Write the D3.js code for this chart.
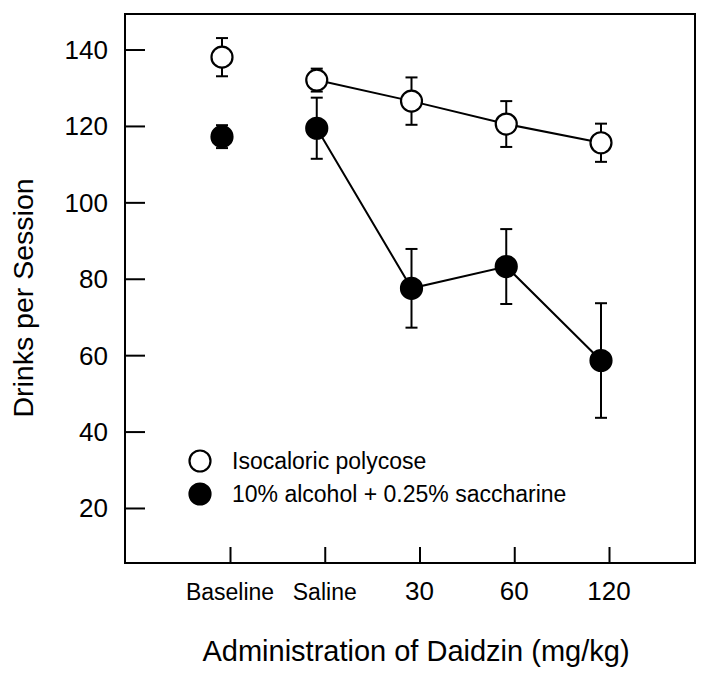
<!DOCTYPE html>
<html>
<head>
<meta charset="utf-8">
<script src="https://cdn.jsdelivr.net/npm/d3@7/dist/d3.min.js"></script>
<style>
  html, body { margin: 0; padding: 0; background: #fff; }
  svg { display: block; font-family: "Liberation Sans", Arial, Helvetica, sans-serif; }
</style>
</head>
<body>
<svg id="chart" width="708" height="679"></svg>
<script>
// ---- data ----
const categories = ["Baseline", "Saline", "30", "60", "120"];
const polycoseMean = [138, 132, 126.5, 120.5, 115.6];
const polycoseErr  = [5, 3, 6.2, 6, 5];
const alcoholMean  = [117.2, 119.4, 77.5, 83.2, 58.6];
const alcoholErr   = [3, 8, 10.3, 9.8, 15];
const yTicks = [20, 40, 60, 80, 100, 120, 140];
const legendLabels = ["Isocaloric polycose", "10% alcohol + 0.25% saccharine"];
const xTitle = "Administration of Daidzin (mg/kg)";
const yTitle = "Drinks per Session";

// ---- layout ----
const box = { left: 125, right: 695, top: 14, bottom: 563 };
const svg = d3.select("#chart");

const x = d3.scalePoint().domain(categories).range([230, 609]);
const y = d3.scaleLinear().domain([5.6, 149.3]).range([box.bottom, box.top]);
const markShift = -8; // points sit slightly left of their ticks in the original
const px = c => x(c) + markShift;

// frame
svg.append("rect")
  .attr("x", box.left).attr("y", box.top)
  .attr("width", box.right - box.left).attr("height", box.bottom - box.top)
  .attr("fill", "none").attr("stroke", "#000").attr("stroke-width", 2);

// y axis (inward ticks)
const yAxis = d3.axisRight(y).tickValues(yTicks).tickSize(20).tickFormat("");
const gy = svg.append("g").attr("transform", `translate(${box.left},0)`).call(yAxis);
gy.select(".domain").remove();
gy.selectAll(".tick line").attr("stroke", "#000").attr("stroke-width", 2);

svg.append("g").selectAll("text").data(yTicks).join("text")
  .attr("x", 108).attr("y", d => y(d))
  .attr("dy", "0.36em")
  .attr("text-anchor", "end")
  .attr("font-size", 26)
  .text(d => d);

// x axis (inward ticks)
const xAxis = d3.axisTop(x).tickSize(16).tickFormat("");
const gx = svg.append("g").attr("transform", `translate(0,${box.bottom})`).call(xAxis);
gx.select(".domain").remove();
gx.selectAll(".tick line").attr("stroke", "#000").attr("stroke-width", 2);

svg.append("g").selectAll("text").data(categories).join("text")
  .attr("x", d => x(d)).attr("y", 600)
  .attr("text-anchor", "middle")
  .attr("font-size", d => isNaN(+d) ? 23 : 26)
  .text(d => d);

// axis titles
svg.append("text")
  .attr("x", 416).attr("y", 661)
  .attr("text-anchor", "middle")
  .attr("font-size", 29)
  .text(xTitle);

svg.append("text")
  .attr("transform", "translate(33,298) rotate(-90)")
  .attr("text-anchor", "middle")
  .attr("font-size", 28.5)
  .text(yTitle);

// series
const series = [
  { mean: polycoseMean, err: polycoseErr, fill: "#fff" },
  { mean: alcoholMean,  err: alcoholErr,  fill: "#000" }
];
const line = d3.line().x(d => px(d.c)).y(d => y(d.v));
const capHalf = 6;

series.forEach(s => {
  const pts = categories.map((c, i) => ({ c, v: s.mean[i], e: s.err[i] }));
  // connecting line (Saline onward)
  svg.append("path")
    .datum(pts.slice(1))
    .attr("d", line)
    .attr("fill", "none").attr("stroke", "#000").attr("stroke-width", 2);
  const g = svg.append("g");
  // error bars
  pts.forEach(p => {
    const eg = g.append("g").attr("stroke", "#000").attr("stroke-width", 2);
    eg.append("line").attr("x1", px(p.c)).attr("x2", px(p.c))
      .attr("y1", y(p.v + p.e)).attr("y2", y(p.v - p.e));
    [p.v + p.e, p.v - p.e].forEach(v => {
      eg.append("line").attr("x1", px(p.c) - capHalf).attr("x2", px(p.c) + capHalf)
        .attr("y1", y(v)).attr("y2", y(v));
    });
  });
  // markers
  g.selectAll("circle").data(pts).join("circle")
    .attr("cx", p => px(p.c)).attr("cy", p => y(p.v))
    .attr("r", 10.5)
    .attr("fill", s.fill).attr("stroke", "#000").attr("stroke-width", 2.2);
});

// legend
const legend = svg.append("g");
legendLabels.forEach((lab, i) => {
  const ly = 461 + i * 33;
  legend.append("circle")
    .attr("cx", 200).attr("cy", ly).attr("r", 10.5)
    .attr("fill", series[i].fill).attr("stroke", "#000").attr("stroke-width", 2.2);
  legend.append("text")
    .attr("x", 232).attr("y", ly).attr("dy", "0.36em")
    .attr("font-size", 23)
    .text(lab);
});
</script>
</body>
</html>
